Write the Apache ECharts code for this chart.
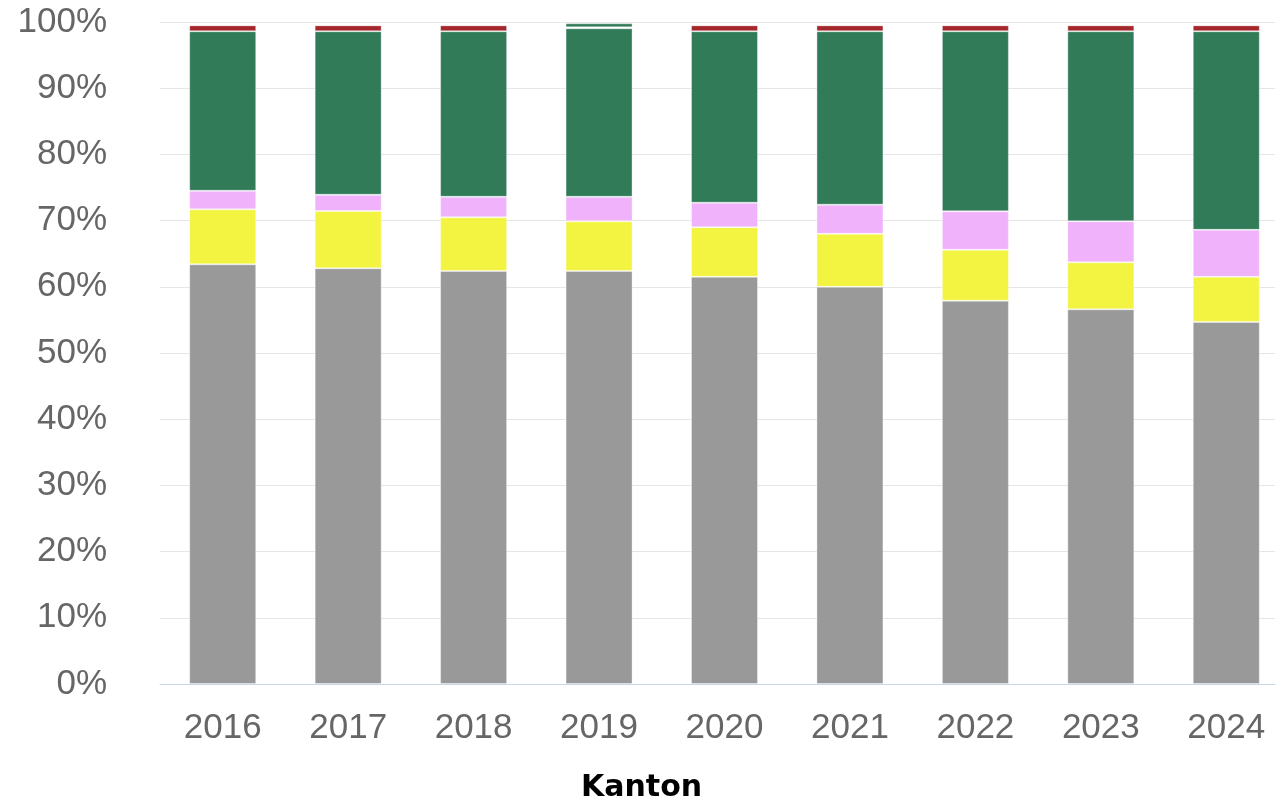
<!DOCTYPE html>
<html>
<head>
<meta charset="utf-8">
<script src="https://cdn.jsdelivr.net/npm/echarts@6/dist/echarts.min.js"></script>
<style>
  html, body { margin: 0; padding: 0; background: #fff; overflow: hidden; }
  #chart { width: 1275px; height: 803px; }
</style>
</head>
<body>
<div id="chart"></div>
<script>
const years = ['2016', '2017', '2018', '2019', '2020', '2021', '2022', '2023', '2024']

// Anteile in %, von unten nach oben gestapelt
const grau = [63.4, 62.8, 62.4, 62.4, 61.5, 60.0, 57.9, 56.6, 54.7]
const gelb = [8.3, 8.65, 8.1, 7.5, 7.5, 8.0, 7.7, 7.1, 6.8]
const rosa = [2.8, 2.45, 3.1, 3.7, 3.7, 4.4, 5.8, 6.2, 7.1]
const gruen = [24.1, 24.7, 25.0, 25.45, 25.9, 26.2, 27.2, 28.7, 30.0]
const rot = [0.9, 0.9, 0.9, 0.15, 0.9, 0.9, 0.9, 0.9, 0.9]
const gruen2 = [0, 0, 0, 0.6, 0, 0, 0, 0, 0]

const yTicks = [0, 10, 20, 30, 40, 50, 60, 70, 80, 90, 100]

const chart = echarts.init(document.getElementById('chart'))

function bar(name, data, color) {
  return {
    name: name,
    type: 'bar',
    stack: 'total',
    barWidth: 67,
    data: data,
    itemStyle: {
      color: color,
      borderColor: 'rgba(255,255,255,0.35)',
      borderWidth: 1,
    },
  }
}

chart.setOption({
  animation: false,
  grid: {
    top: 22,
    bottom: 119,
    left: 160,
    right: -14,
    containLabel: false,
    outerBoundsMode: 'none',
  },
  graphic: [
    {
      type: 'text',
      left: 581,
      top: 773,
      style: {
        text: 'Kanton',
        fill: '#000',
        font: 'bold 30px "DejaVu Sans"',
      },
    },
  ],
  xAxis: {
    type: 'category',
    data: years,
    axisLine: { lineStyle: { color: '#ccd6eb', width: 1 } },
    axisTick: { show: false },
    axisLabel: {
      color: '#666',
      fontSize: 35,
      fontFamily: 'Liberation Sans',
      margin: 27,
    },
  },
  yAxis: {
    type: 'value',
    min: yTicks[0],
    max: yTicks[yTicks.length - 1],
    interval: 10,
    axisLine: { show: false },
    axisTick: { show: false },
    splitLine: { lineStyle: { color: '#e6e6e6', width: 1 } },
    axisLabel: {
      color: '#666',
      fontSize: 35,
      fontFamily: 'Liberation Sans',
      margin: 53,
      formatter: '{value}%',
    },
  },
  series: [
    bar('Grau', grau, '#999999'),
    bar('Gelb', gelb, '#f3f342'),
    bar('Rosa', rosa, '#f0b2fa'),
    bar('Grün', gruen, '#317b59'),
    bar('Rot', rot, '#a3272b'),
    bar('Grün 2', gruen2, '#317b59'),
  ],
})
</script>
</body>
</html>
